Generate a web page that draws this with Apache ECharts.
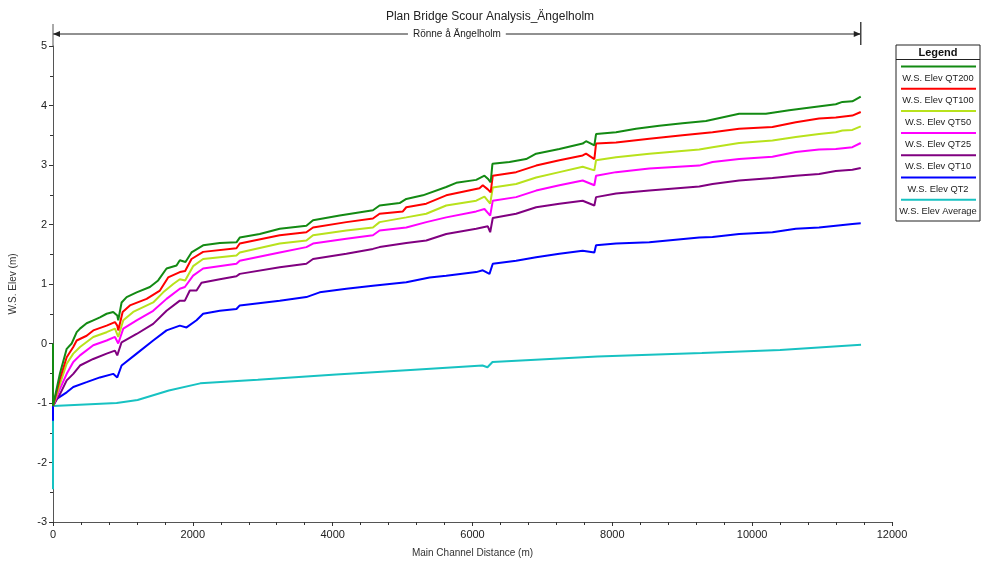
<!DOCTYPE html>
<html>
<head>
<meta charset="utf-8">
<title>Plan Bridge Scour Analysis_Ängelholm</title>
<script src="https://cdn.jsdelivr.net/npm/echarts@6/dist/echarts.min.js"></script>
<style>
    html, body {margin: 0; padding: 0; background: #fff;}
    #profile {width: 982px; height: 564px;}
</style>
</head>
<body>
<div id="profile"></div>
<script>
// [main channel distance (m), W.S. elev (m)]
var qt200 = [[0,0],[0,-1.05],[100,-0.50],[196,-0.09],[267,0.0],[339,0.19],[386,0.25],[481,0.34],[576,0.39],[671,0.44],[767,0.50],[861,0.53],[919,0.47],[933,0.39],[981,0.69],[1053,0.78],[1196,0.86],[1386,0.95],[1504,1.06],[1624,1.26],[1767,1.31],[1814,1.40],[1895,1.37],[1981,1.53],[2147,1.65],[2386,1.69],[2624,1.70],[2671,1.78],[2957,1.84],[3243,1.93],[3624,1.98],[3719,2.07],[4100,2.15],[4576,2.24],[4671,2.32],[4957,2.36],[5053,2.43],[5290,2.49],[5624,2.63],[5767,2.70],[6053,2.75],[6171,2.82],[6219,2.77],[6260,2.71],[6285,3.02],[6529,3.05],[6767,3.10],[6910,3.19],[7243,3.27],[7576,3.36],[7624,3.40],[7743,3.33],[7767,3.52],[8053,3.55],[8339,3.61],[8671,3.66],[9004,3.70],[9339,3.74],[9814,3.86],[10196,3.86],[10529,3.92],[10861,3.97],[11196,4.02],[11290,4.06],[11433,4.07],[11553,4.15]];
var qt100 = [[0,-1.05],[100,-0.59],[196,-0.23],[290,-0.06],[339,0.05],[481,0.13],[576,0.22],[767,0.30],[886,0.36],[919,0.30],[933,0.22],[996,0.53],[1100,0.64],[1339,0.75],[1529,0.89],[1647,1.11],[1814,1.20],[1890,1.22],[1981,1.42],[2147,1.54],[2624,1.60],[2671,1.68],[3243,1.82],[3624,1.87],[3719,1.95],[4196,2.04],[4576,2.10],[4671,2.18],[5004,2.22],[5053,2.29],[5339,2.35],[5624,2.49],[6100,2.61],[6147,2.66],[6219,2.59],[6260,2.54],[6290,2.82],[6624,2.88],[6910,2.99],[7243,3.08],[7576,3.16],[7624,3.19],[7743,3.10],[7767,3.36],[8053,3.38],[8529,3.44],[9004,3.50],[9433,3.55],[9814,3.61],[10290,3.64],[10624,3.72],[10957,3.78],[11196,3.80],[11433,3.83],[11553,3.89]];
var qt50 = [[0,-1.05],[100,-0.68],[196,-0.34],[290,-0.17],[386,-0.06],[576,0.11],[767,0.19],[886,0.25],[933,0.11],[1005,0.39],[1147,0.53],[1433,0.69],[1576,0.86],[1720,1.0],[1814,1.08],[1890,1.06],[2004,1.30],[2147,1.42],[2624,1.48],[2671,1.53],[3243,1.68],[3624,1.73],[3719,1.82],[4196,1.90],[4576,1.95],[4671,2.04],[5053,2.12],[5339,2.18],[5624,2.32],[6053,2.40],[6171,2.47],[6253,2.35],[6290,2.62],[6624,2.68],[6910,2.79],[7243,2.88],[7576,2.97],[7743,2.91],[7767,3.08],[8053,3.13],[8529,3.19],[9243,3.26],[9433,3.30],[9814,3.37],[10290,3.41],[10624,3.47],[10957,3.52],[11196,3.55],[11290,3.58],[11433,3.59],[11553,3.65]];
var qt25 = [[0,-1.05],[100,-0.76],[196,-0.51],[290,-0.31],[386,-0.20],[576,-0.03],[767,0.05],[886,0.11],[933,0.0],[1005,0.25],[1196,0.39],[1433,0.55],[1624,0.75],[1814,0.92],[1886,0.95],[2004,1.14],[2147,1.26],[2624,1.34],[2671,1.39],[3243,1.53],[3624,1.62],[3719,1.68],[4196,1.76],[4576,1.82],[4671,1.90],[5053,1.95],[5339,2.04],[5624,2.12],[6053,2.22],[6171,2.26],[6253,2.15],[6290,2.40],[6624,2.46],[6910,2.57],[7243,2.66],[7576,2.74],[7743,2.66],[7767,2.82],[8053,2.88],[8529,2.94],[9243,2.99],[9433,3.05],[9814,3.10],[10290,3.14],[10624,3.22],[10957,3.26],[11196,3.27],[11433,3.30],[11553,3.37]];
var qt10 = [[0,-1.05],[100,-0.85],[196,-0.62],[290,-0.51],[386,-0.37],[576,-0.26],[767,-0.17],[886,-0.12],[919,-0.20],[981,0.02],[1196,0.16],[1433,0.33],[1624,0.55],[1814,0.72],[1886,0.72],[1957,0.89],[2053,0.89],[2124,1.02],[2386,1.08],[2624,1.13],[2671,1.17],[3243,1.28],[3624,1.34],[3719,1.42],[4196,1.51],[4576,1.59],[4671,1.62],[5053,1.69],[5339,1.73],[5624,1.84],[6053,1.93],[6219,1.97],[6253,1.87],[6290,2.11],[6624,2.18],[6910,2.29],[7243,2.35],[7576,2.40],[7743,2.32],[7767,2.46],[8053,2.52],[8529,2.57],[9243,2.64],[9433,2.68],[9814,2.74],[10290,2.78],[10624,2.82],[10957,2.85],[11196,2.90],[11433,2.92],[11553,2.95]];
var qt2 = [[0,-1.30],[0,-1.05],[53,-0.93],[196,-0.82],[290,-0.73],[481,-0.65],[671,-0.57],[861,-0.51],[919,-0.57],[981,-0.37],[1196,-0.17],[1433,0.05],[1624,0.22],[1814,0.30],[1910,0.27],[2053,0.39],[2147,0.50],[2386,0.55],[2624,0.58],[2671,0.64],[3243,0.72],[3624,0.78],[3814,0.86],[4196,0.92],[4576,0.97],[5053,1.03],[5386,1.11],[5624,1.14],[6053,1.20],[6147,1.23],[6243,1.17],[6290,1.34],[6624,1.39],[6910,1.45],[7243,1.51],[7576,1.56],[7743,1.53],[7767,1.65],[8053,1.68],[8529,1.70],[9243,1.78],[9433,1.79],[9814,1.84],[10290,1.87],[10624,1.93],[10957,1.95],[11196,1.98],[11433,2.01],[11553,2.02]];
var average = [[0,-2.45],[0,-1.05],[911,-1.00],[1210,-0.95],[1657,-0.79],[2106,-0.67],[2929,-0.61],[4050,-0.52],[5171,-0.44],[6143,-0.37],[6214,-0.40],[6286,-0.31],[7786,-0.22],[9280,-0.16],[10400,-0.11],[11557,-0.02]];

var profiles = [qt200, qt100, qt50, qt25, qt10, qt2, average];
var seriesNames = ['W.S. Elev QT200', 'W.S. Elev QT100', 'W.S. Elev QT50', 'W.S. Elev QT25', 'W.S. Elev QT10', 'W.S. Elev QT2', 'W.S. Elev Average'];
var seriesColors = ['#138a13', '#ff0000', '#b8e21c', '#ff00ff', '#800080', '#0000ff', '#17c2c2'];
var reachName = 'Rönne å Ängelholm';

var font = 'Liberation Sans, Arial, sans-serif';
var chart = echarts.init(document.getElementById('profile'));

var series = [];
for (var i = 0; i < profiles.length; i++) {
    series.push({
        name: seriesNames[i],
        type: 'line',
        data: profiles[i],
        symbol: 'none',
        clip: false,
        lineStyle: {color: seriesColors[i], width: 2},
        itemStyle: {color: seriesColors[i]},
        z: 10 - i
    });
}

var option = {
    animation: false,
    backgroundColor: '#fff',
    textStyle: {fontFamily: font},
    title: {
        text: 'Plan Bridge Scour Analysis_Ängelholm',
        left: 485,
        textAlign: 'center',
        top: 6,
        textStyle: {fontSize: 12, fontWeight: 'normal', color: '#222', fontFamily: font}
    },
    grid: {left: 53, right: 90, top: 46, bottom: 42},
    xAxis: {
        type: 'value',
        min: 0,
        max: 12000,
        interval: 2000,
        name: 'Main Channel Distance (m)',
        nameLocation: 'middle',
        nameGap: 26,
        nameTextStyle: {fontSize: 10, color: '#333'},
        axisLine: {onZero: false, lineStyle: {color: '#555', width: 1}},
        axisTick: {length: 4, lineStyle: {color: '#333'}},
        minorTick: {show: true, splitNumber: 5, length: 3, lineStyle: {color: '#333'}},
        axisLabel: {fontSize: 11, color: '#222', margin: 7, formatter: function (v) { return String(v); }},
        splitLine: {show: false}
    },
    yAxis: {
        type: 'value',
        min: -3,
        max: 5,
        interval: 1,
        name: 'W.S. Elev (m)',
        nameLocation: 'middle',
        nameGap: 35,
        nameTextStyle: {fontSize: 10, color: '#333'},
        axisLine: {show: true, onZero: false, lineStyle: {color: '#555', width: 1}},
        axisTick: {show: true, length: 4, lineStyle: {color: '#333'}},
        minorTick: {show: true, splitNumber: 2, length: 3, lineStyle: {color: '#333'}},
        axisLabel: {fontSize: 11, color: '#222', margin: 6},
        splitLine: {show: false}
    },
    series: series
};
chart.setOption(option);

// reach arrow above the plot and the boxed legend (line sample above each name)
var lastPoint = qt200[qt200.length - 1];
var xs = chart.convertToPixel({xAxisIndex: 0}, 0);
var xe = chart.convertToPixel({xAxisIndex: 0}, lastPoint[0]);
var ya = 34;
var graphics = [
    {type: 'line', shape: {x1: xs, y1: ya, x2: xe, y2: ya}, style: {stroke: '#222', lineWidth: 1}},
    {type: 'polygon', shape: {points: [[xs, ya], [xs + 7, ya - 3], [xs + 7, ya + 3]]}, style: {fill: '#222'}},
    {type: 'polygon', shape: {points: [[xe, ya], [xe - 7, ya - 3], [xe - 7, ya + 3]]}, style: {fill: '#222'}},
    {type: 'line', shape: {x1: xs, y1: 24, x2: xs, y2: 46}, style: {stroke: '#555', lineWidth: 1}},
    {type: 'line', shape: {x1: xe, y1: 22, x2: xe, y2: 45}, style: {stroke: '#444', lineWidth: 1.5}},
    {type: 'text', x: (xs + xe) / 2, y: ya, style: {
        text: reachName, fill: '#222', font: '10px ' + font, align: 'center', verticalAlign: 'middle',
        backgroundColor: '#fff', padding: [0, 5]
    }, z: 20}
];

var lx = 896, ly = 45, lw = 84;
graphics.push({type: 'rect', shape: {x: lx, y: ly, width: lw, height: 176}, style: {fill: '#fff', stroke: '#222', lineWidth: 1}});
graphics.push({type: 'text', x: lx + lw / 2, y: 52.5, style: {text: 'Legend', fill: '#111', font: 'bold 11px ' + font, align: 'center', verticalAlign: 'middle'}});
graphics.push({type: 'line', shape: {x1: lx, y1: 59.5, x2: lx + lw, y2: 59.5}, style: {stroke: '#222', lineWidth: 1}});
for (var k = 0; k < seriesNames.length; k++) {
    var yl = 66.5 + 22.2 * k;
    graphics.push({type: 'line', shape: {x1: lx + 5, y1: yl, x2: lx + lw - 4, y2: yl}, style: {stroke: seriesColors[k], lineWidth: 2}});
    graphics.push({type: 'text', x: lx + lw / 2, y: yl + 11.5, style: {
        text: seriesNames[k], fill: '#222', font: '9.3px ' + font, align: 'center', verticalAlign: 'middle'
    }});
}
chart.setOption({graphic: graphics});
</script>
</body>
</html>
